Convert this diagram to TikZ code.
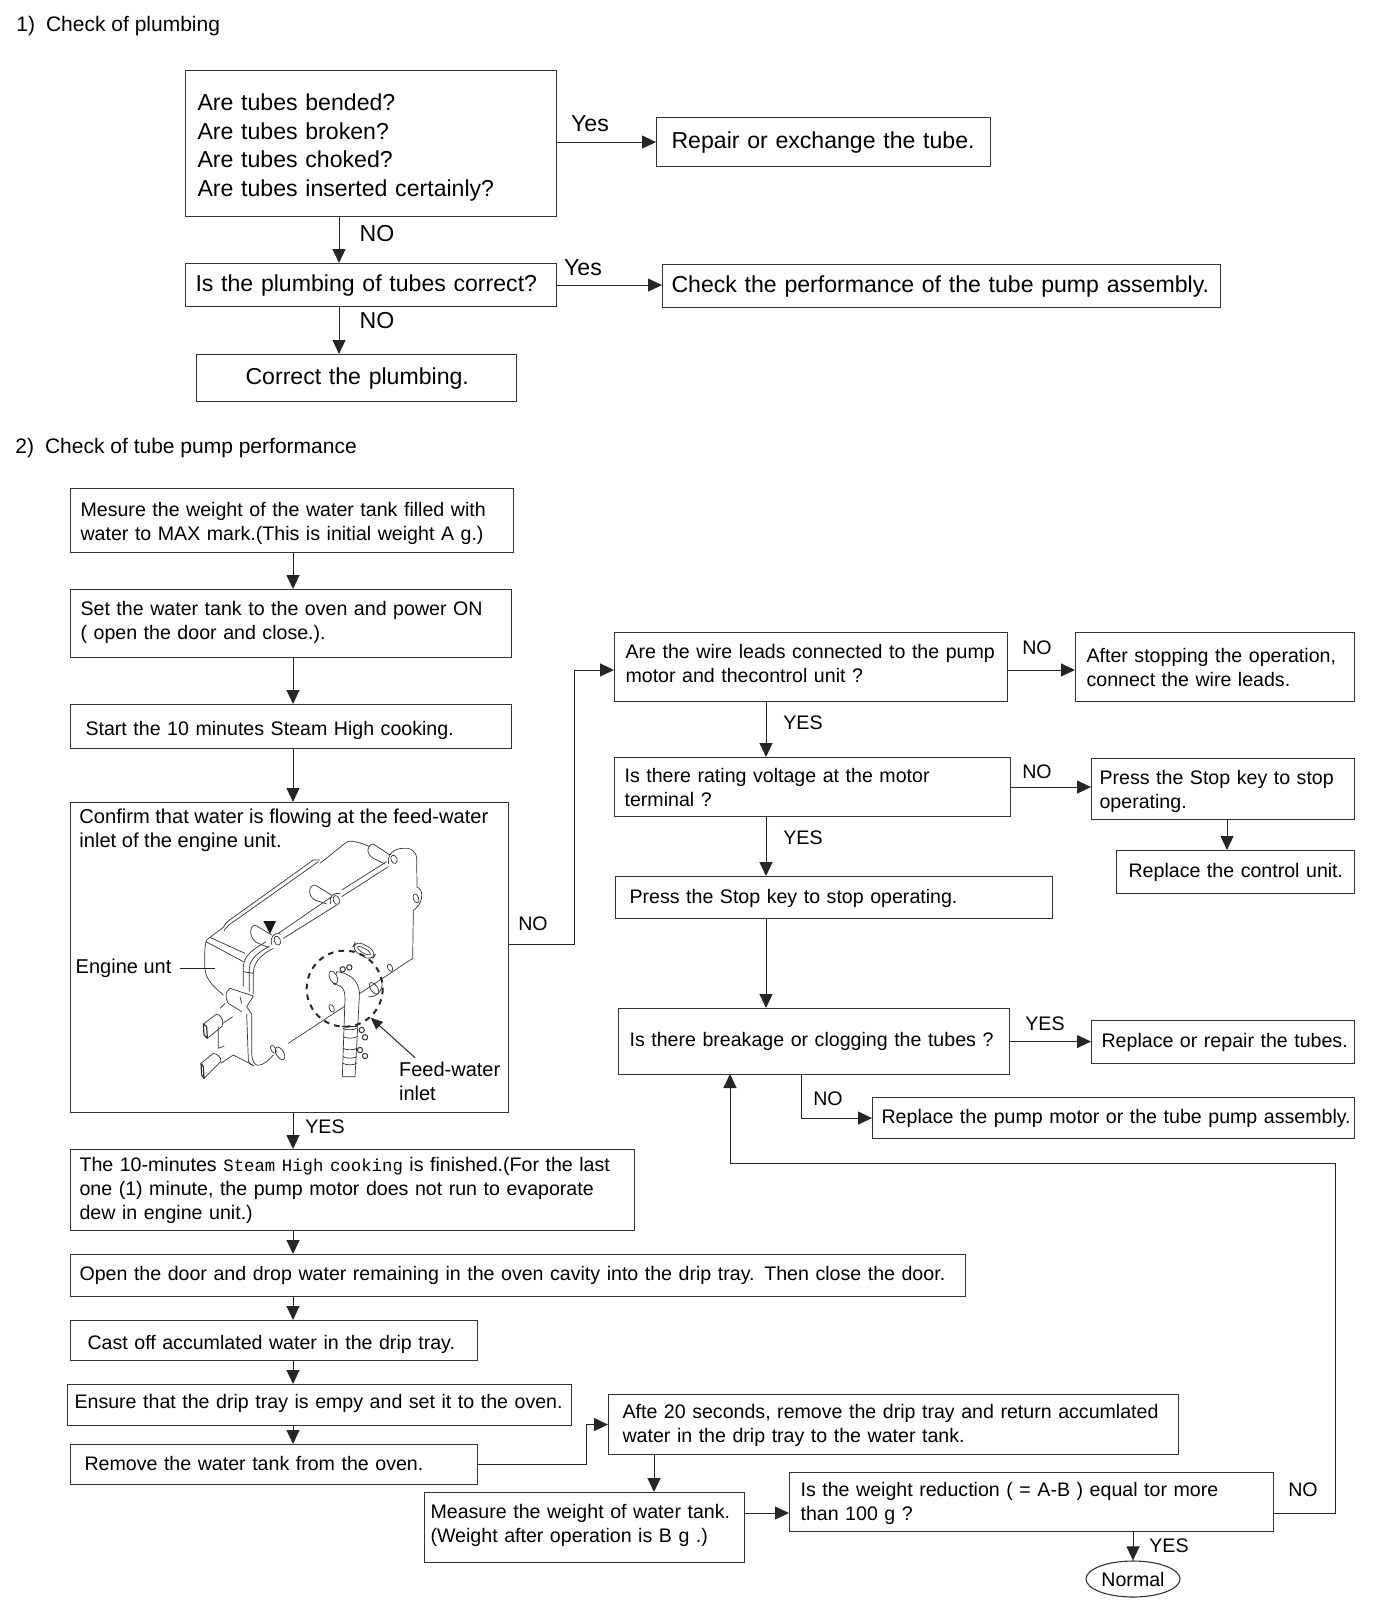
\documentclass[tikz,border=0pt]{standalone}
\usepackage{fontspec}
\setmainfont{Liberation Sans}
\newfontfamily\monofont[Scale=0.885]{Liberation Mono}
\usepackage{tikz}
\usetikzlibrary{arrows.meta,shapes.geometric}
\frenchspacing
\newcommand{\boxtop}{0.77em}
\newcommand{\boxlow}{0pt}
\tikzset{
  toppad/.code={\renewcommand{\boxtop}{#1}},
  lowpad/.code={\renewcommand{\boxlow}{#1}},
  box/.style n args={3}{draw=black!80,line width=0.55pt,anchor=north west,align=left,
    inner ysep=0pt,inner xsep={#3*0.5pt},text width={(#1-2*(#3))*0.5pt},minimum height={#2*0.5pt},
    execute at begin node={\rightskip=-60pt plus 1fil\relax\rule{0pt}{\boxtop}},
    execute at end node={\rule[-\boxlow]{0pt}{\boxlow}},
    font=\fontsize{9.8}{12}\selectfont},
  bigbox/.style n args={3}{box={#1}{#2}{#3},font=\fontsize{11.55}{14.4}\selectfont},
  flow/.style={-{Triangle[length=7pt,width=6.5pt]},line width=0.5pt,black!85},
  tag/.style={font=\fontsize{9.8}{12}\selectfont,inner sep=0pt},
  bigtag/.style={font=\fontsize{11.55}{14}\selectfont,inner sep=0pt},
  part/.style={line width=0.35pt,black!80,line join=round},
}
\begin{document}
\begin{tikzpicture}[x=0.5pt,y=-0.5pt]
  \useasboundingbox (0,0) rectangle (1382,1600);

  % Section headings
  \node[anchor=west,inner sep=0pt,font=\fontsize{10.5}{12}\selectfont] (headone) at (16,26) {1)\hspace{5.5pt}Check of plumbing};
  \node[anchor=west,inner sep=0pt,font=\fontsize{10.5}{12}\selectfont] (headtwo) at (15,448) {2)\hspace{5.5pt}Check of tube pump performance};

  % Plumbing check
  \node[bigbox={371}{146}{12},toppad=1.07em] (askTubes) at (185,70) {Are tubes bended?\\Are tubes broken?\\Are tubes choked?\\Are tubes inserted certainly?};
  \node[bigbox={334}{49}{15}] (repairTube) at (656,117) {Repair or exchange the tube.};
  \node[bigbox={371}{43}{10}] (askPlumbing) at (185,263) {Is the plumbing of tubes correct?};
  \node[bigbox={558}{43}{9}] (checkPump) at (662,264) {Check the performance of the tube pump assembly.};
  \node[bigbox={320}{47}{49}] (fixPlumbing) at (196,354) {Correct the plumbing.};
  \coordinate (upperX) at (339,0);
  \draw[flow] (askTubes.east |- repairTube.west) -- (repairTube.west);
  \draw[flow] (askPlumbing.east) -- (checkPump.west |- askPlumbing.east);
  \draw[flow] (askTubes.south -| upperX) -- (askPlumbing.north -| upperX);
  \draw[flow] (askPlumbing.south -| upperX) -- (fixPlumbing.north -| upperX);
  \node[bigtag] (yesRepair) at (590,124) {Yes};
  \node[bigtag] (yesPump) at (583,268) {Yes};
  \node[bigtag] (noTubes) at (377,234) {NO};
  \node[bigtag] (noPlumbing) at (377,321) {NO};

  % Left column
  \node[box={443}{64}{10},toppad=0.97em] (weighTank) at (70,488) {Mesure the weight of the water tank filled with\\water to MAX mark.(This is initial weight A g.)};
  \node[box={441}{68}{10},lowpad=4pt] (powerOn) at (70,589) {Set the water tank to the oven and power ON\\( open the door and close.).};
  \node[box={441}{44}{15},toppad=1.07em] (startCook) at (70,704) {Start the 10 minutes Steam High cooking.};
  \node[box={438}{310}{9}] (confirmFlow) at (70,802) {};
  \node[anchor=north west,inner sep=0pt,align=left,font=\fontsize{10.05}{12}\selectfont] (confirmText) at (79,809) {Confirm that water is flowing at the feed-water\\inlet of the engine unit.};
  \node[box={564}{81}{9}] (cookDone) at (70,1149) {The 10-minutes {\monofont Steam High cooking} is finished.(For the last\\one (1) minute, the pump motor does not run to evaporate\\dew in engine unit.)};
  \node[box={895}{42}{9},lowpad=3pt] (dropWater) at (70,1254) {\nonfrenchspacing Open the door and drop water remaining in the oven cavity into the drip tray. Then close the door.};
  \node[box={407}{40}{17},toppad=1.07em] (castOff) at (70,1320) {Cast off accumlated water in the drip tray.};
  \node[box={504}{41}{7},lowpad=4pt] (setTray) at (67,1384) {Ensure that the drip tray is empy and set it to the oven.};
  \node[box={407}{40}{14},lowpad=1.2pt] (removeTank) at (70,1444) {Remove the water tank from the oven.};
  \coordinate (spineX) at (293,0);
  \foreach \from/\to in {weighTank/powerOn,powerOn/startCook,startCook/confirmFlow,confirmFlow/cookDone,cookDone/dropWater,dropWater/castOff,castOff/setTray,setTray/removeTank}
    \draw[flow] (\from.south -| spineX) -- (\to.north -| spineX);
  \node[tag] (yesFlow) at (325,1127) {YES};

  % Bottom row
  \node[box={570}{60}{14}] (returnWater) at (608,1394) {Afte 20 seconds, remove the drip tray and return accumlated\\water in the drip tray to the water tank.};
  \node[box={320}{70}{6},lowpad=5pt] (weighAgain) at (424,1492) {Measure the weight of water tank.\\(Weight after operation is B g .)};
  \node[box={484}{59}{11},toppad=0.87em] (askReduction) at (789,1472) {Is the weight reduction ( = A-B ) equal tor more\\than 100 g ?};
  \node[draw=black!80,line width=0.55pt,ellipse,minimum width=47pt,minimum height=18pt,inner sep=0pt,font=\fontsize{9.8}{12}\selectfont] (normalEnd) at (1133,1579) {Normal};
  \coordinate (returnBend) at (586,1464);
  \coordinate (weighOut) at (0,1513);
  \coordinate (loopA) at (1335,1513);
  \coordinate (loopB) at (730,1163);
  \draw[flow] (removeTank.east |- returnBend) -- (returnBend) |- (returnWater.west);
  \draw[flow] (returnWater.south -| 654,0) -- (weighAgain.north -| 654,0);
  \draw[flow] (weighAgain.east |- weighOut) -- (askReduction.west |- weighOut);
  \draw[flow] (askReduction.south -| normalEnd) -- (normalEnd.north);
  \draw[flow] (askReduction.east |- weighOut) -- (loopA) |- (loopB) -- (loopB |- 0,1074);
  \node[tag] (noReduction) at (1303,1490) {NO};
  \node[tag] (yesReduction) at (1169,1546) {YES};

  % Right column
  \node[box={393}{69}{11},lowpad=4.2pt] (askLeads) at (614,632) {Are the wire leads connected to the pump\\motor and thecontrol unit ?};
  \node[box={279}{69}{11}] (connectLeads) at (1075,632) {After stopping the operation,\\connect the wire leads.};
  \node[box={396}{59}{10}] (askVoltage) at (614,757) {Is there rating voltage at the motor\\terminal ?};
  \node[box={263}{61}{8},toppad=0.95em] (stopOne) at (1091,758) {Press the Stop key to stop\\operating.};
  \node[box={238}{43}{12}] (replaceControl) at (1116,850) {Replace the control unit.};
  \node[box={437}{42}{14}] (stopTwo) at (615,876) {Press the Stop key to stop operating.};
  \node[box={391}{66}{11},lowpad=3pt] (askClog) at (618,1008) {Is there breakage or clogging the tubes ?};
  \node[box={263}{43}{10}] (replaceTubes) at (1091,1020) {Replace or repair the tubes.};
  \node[box={482}{41}{9}] (replaceMotor) at (872,1097) {Replace the pump motor or the tube pump assembly.};
  \coordinate (rightX) at (766,0);
  \coordinate (leadsY) at (0,670);
  \coordinate (noOut) at (574,944);
  \draw[flow] (confirmFlow.east |- noOut) -- (noOut) |- (askLeads.west |- leadsY);
  \draw[flow] (askLeads.east |- leadsY) -- (connectLeads.west |- leadsY);
  \draw[flow] (askLeads.south -| rightX) -- (askVoltage.north -| rightX);
  \draw[flow] (askVoltage.east) -- (stopOne.west |- askVoltage.east);
  \draw[flow] (stopOne.south -| 1227,0) -- (replaceControl.north -| 1227,0);
  \draw[flow] (askVoltage.south -| rightX) -- (stopTwo.north -| rightX);
  \draw[flow] (stopTwo.south -| rightX) -- (askClog.north -| rightX);
  \draw[flow] (askClog.east) -- (replaceTubes.west |- askClog.east);
  \draw[flow] (askClog.south -| 801,0) |- (replaceMotor.west);
  \node[tag] (noOne) at (533,924) {NO};
  \node[tag] (noLeads) at (1037,648) {NO};
  \node[tag] (yesLeads) at (803,723) {YES};
  \node[tag] (noVoltage) at (1037,772) {NO};
  \node[tag] (yesVoltage) at (803,838) {YES};
  \node[tag] (yesClog) at (1045,1024) {YES};
  \node[tag] (noClog) at (828,1099) {NO};

  % Engine unit drawing, in crop coordinates
  \begin{scope}[shift={(60,790)},x=0.16667pt,y=-0.16667pt]
    % top ridge
    \draw[part] (450,442) -- (490,412) .. controls (500,395) and (505,392) .. (520,382) -- (760,210) -- (780,210);
    \draw[part] (492,422) .. controls (500,408) and (510,402) .. (522,394) -- (775,215);
    \draw[part] (780,220) -- (855,160) .. controls (865,150) and (880,150) .. (930,170);
    % pipe stubs
    \draw[part] (940,205) .. controls (918,192) and (918,165) .. (940,162) -- (990,195);
    \draw[part] (765,330) .. controls (742,318) and (745,285) .. (765,285) -- (815,315);
    \draw[part] (595,460) .. controls (568,450) and (565,410) .. (585,405) -- (635,435);
    \draw[part] (940,205) -- (975,222);
    \draw[part] (765,330) -- (800,342);
    \draw[part] (595,460) -- (625,472);
    % rails
    \draw[part] (655,430) -- (815,320);
    \draw[part] (670,445) -- (830,345);
    \draw[part] (845,300) -- (980,215);
    \draw[part] (845,320) -- (985,230);
    % lugs on the rails
    \draw[part] (1002,208) ellipse [x radius=9,y radius=13,rotate=20];
    \draw[part] (986,222) .. controls (980,195) and (1000,175) .. (1030,175);
    \draw[part] (829,330) ellipse [x radius=9,y radius=14,rotate=20];
    \draw[part] (812,342) .. controls (805,320) and (820,305) .. (842,312);
    \draw[part] (652,452) ellipse [x radius=9,y radius=14,rotate=20];
    \draw[part] (636,465) .. controls (628,445) and (640,425) .. (662,432);
    % plate outline
    \draw[part] (1030,175) .. controls (1050,172) and (1068,182) .. (1070,205) -- (1071,292)
      .. controls (1090,295) and (1090,335) .. (1070,352) -- (1060,362) -- (1058,505) -- (900,610);
    \draw[part] (1068,325) ellipse [x radius=8,y radius=14,rotate=20];
    \draw[part] (855,648) -- (685,760);
    % left face
    \draw[part] (450,442) .. controls (436,448) and (434,460) .. (434,520) .. controls (434,565) and (450,580) .. (490,615);
    \draw[part] (450,442) -- (555,490);
    \draw[part] (438,455) -- (550,515);
    % front strip
    \draw[part] (550,590) -- (550,530) .. controls (552,495) and (580,478) .. (618,455);
    \draw[part] (568,605) -- (568,535) .. controls (570,505) and (595,488) .. (628,468);
    \draw[part] (580,612) -- (580,545) .. controls (584,510) and (610,490) .. (640,475);
    \draw[part] (550,545) -- (580,550);
    % lower edge
    \draw[part] (560,650) -- (575,672) -- (575,795) .. controls (577,815) and (585,825) .. (595,826) .. controls (610,825) and (625,812) .. (640,795);
    \draw[part] (560,672) -- (565,810) .. controls (566,820) and (572,825) .. (582,827);
    \draw[part] (520,795) -- (582,827);
    % block by the terminals
    \draw[part] (580,618) -- (510,595) .. controls (495,605) and (495,625) .. (505,640) -- (545,665);
    \draw[part] (580,618) -- (560,650);
    \draw[part] (540,620) -- (545,640);
    % terminals
    \draw[part] (495,640) -- (480,655);
    \draw[part] (475,710) -- (475,775) -- (493,768);
    \draw[part] (518,680) -- (488,700);
    \draw[part] (470,672) .. controls (490,680) and (492,700) .. (485,710) -- (442,745);
    \draw[part] (430,702) -- (470,672);
    \draw[part,line width=0.6pt] (430,702) -- (432,735) -- (442,745) -- (440,710) -- cycle;
    \draw[part] (520,795) -- (482,820);
    \draw[part] (460,790) .. controls (482,795) and (490,812) .. (475,822) -- (432,865);
    \draw[part] (423,820) -- (460,790);
    \draw[part,line width=0.6pt] (423,820) -- (425,855) -- (432,865) -- (430,830) -- cycle;
    % holes
    \draw[part] (640,778) ellipse [x radius=7,y radius=13,rotate=30];
    \draw[part] (660,790) ellipse [x radius=11,y radius=21,rotate=30];
    \draw[part] (815,655) ellipse [x radius=7,y radius=12,rotate=25];
    \draw[part] (990,533) ellipse [x radius=7,y radius=12,rotate=25];
    \draw[part] (942,595) ellipse [x radius=10,y radius=20,rotate=35];
    \draw[part] (963,565) .. controls (975,590) and (955,625) .. (925,620);
    \draw[part,rounded corners=4pt,rotate around={-30:(912,482)}] (877,466) rectangle (947,498);
    \draw[part] (912,482) ellipse [x radius=22,y radius=7,rotate=-30];
    % feed-water tube
    \draw[part,fill=white] (830,545) .. controls (880,550) and (902,585) .. (898,620) -- (885,860) -- (847,860) -- (855,625) .. controls (855,590) and (840,585) .. (820,582) -- cycle;
    \draw[part,fill=white] (820,562) ellipse [x radius=11,y radius=20,rotate=25];
    \foreach \bandy in {715,740,775,800,820}
      \draw[part] (849,\bandy) .. controls (860,\bandy+6) and (880,\bandy+6) .. (890,\bandy);
    \draw[line width=0.7pt,black!85] (846,710) -- (892,710);
    \foreach \ringx/\ringy in {848/538,868/532,905/720,915/742,900/780,915/798}
      \draw[part,line width=0.5pt] (\ringx,\ringy) circle (8);
    % inlet mark
    \draw[line width=1pt,black!85,dash pattern=on 2.8pt off 2.6pt] (854,596) circle (114);
    \fill[black!90] (610,393) -- (648,393) -- (630,432) -- cycle;
    % labels of the drawing
    \node[anchor=west,inner sep=4pt,font=\fontsize{10}{12}\selectfont] (engineLabel) at (22,535) {Engine unt};
    \coordinate (engineTip) at (465,533);
    \draw[line width=0.5pt,black!85] (engineLabel.east) -- (engineTip |- engineLabel.east);
    \node[anchor=north west,inner sep=0pt,align=left,font=\fontsize{10}{12}\selectfont] (feedLabel) at (1016,814) {Feed-water\\inlet};
    \coordinate (feedTail) at (1065,803);
    \coordinate (feedTip) at (932,683);
    \draw[-{Triangle[length=6pt,width=5pt]},line width=0.5pt,black!85] (feedTail) -- (feedTip);
  \end{scope}

\end{tikzpicture}
\end{document}
